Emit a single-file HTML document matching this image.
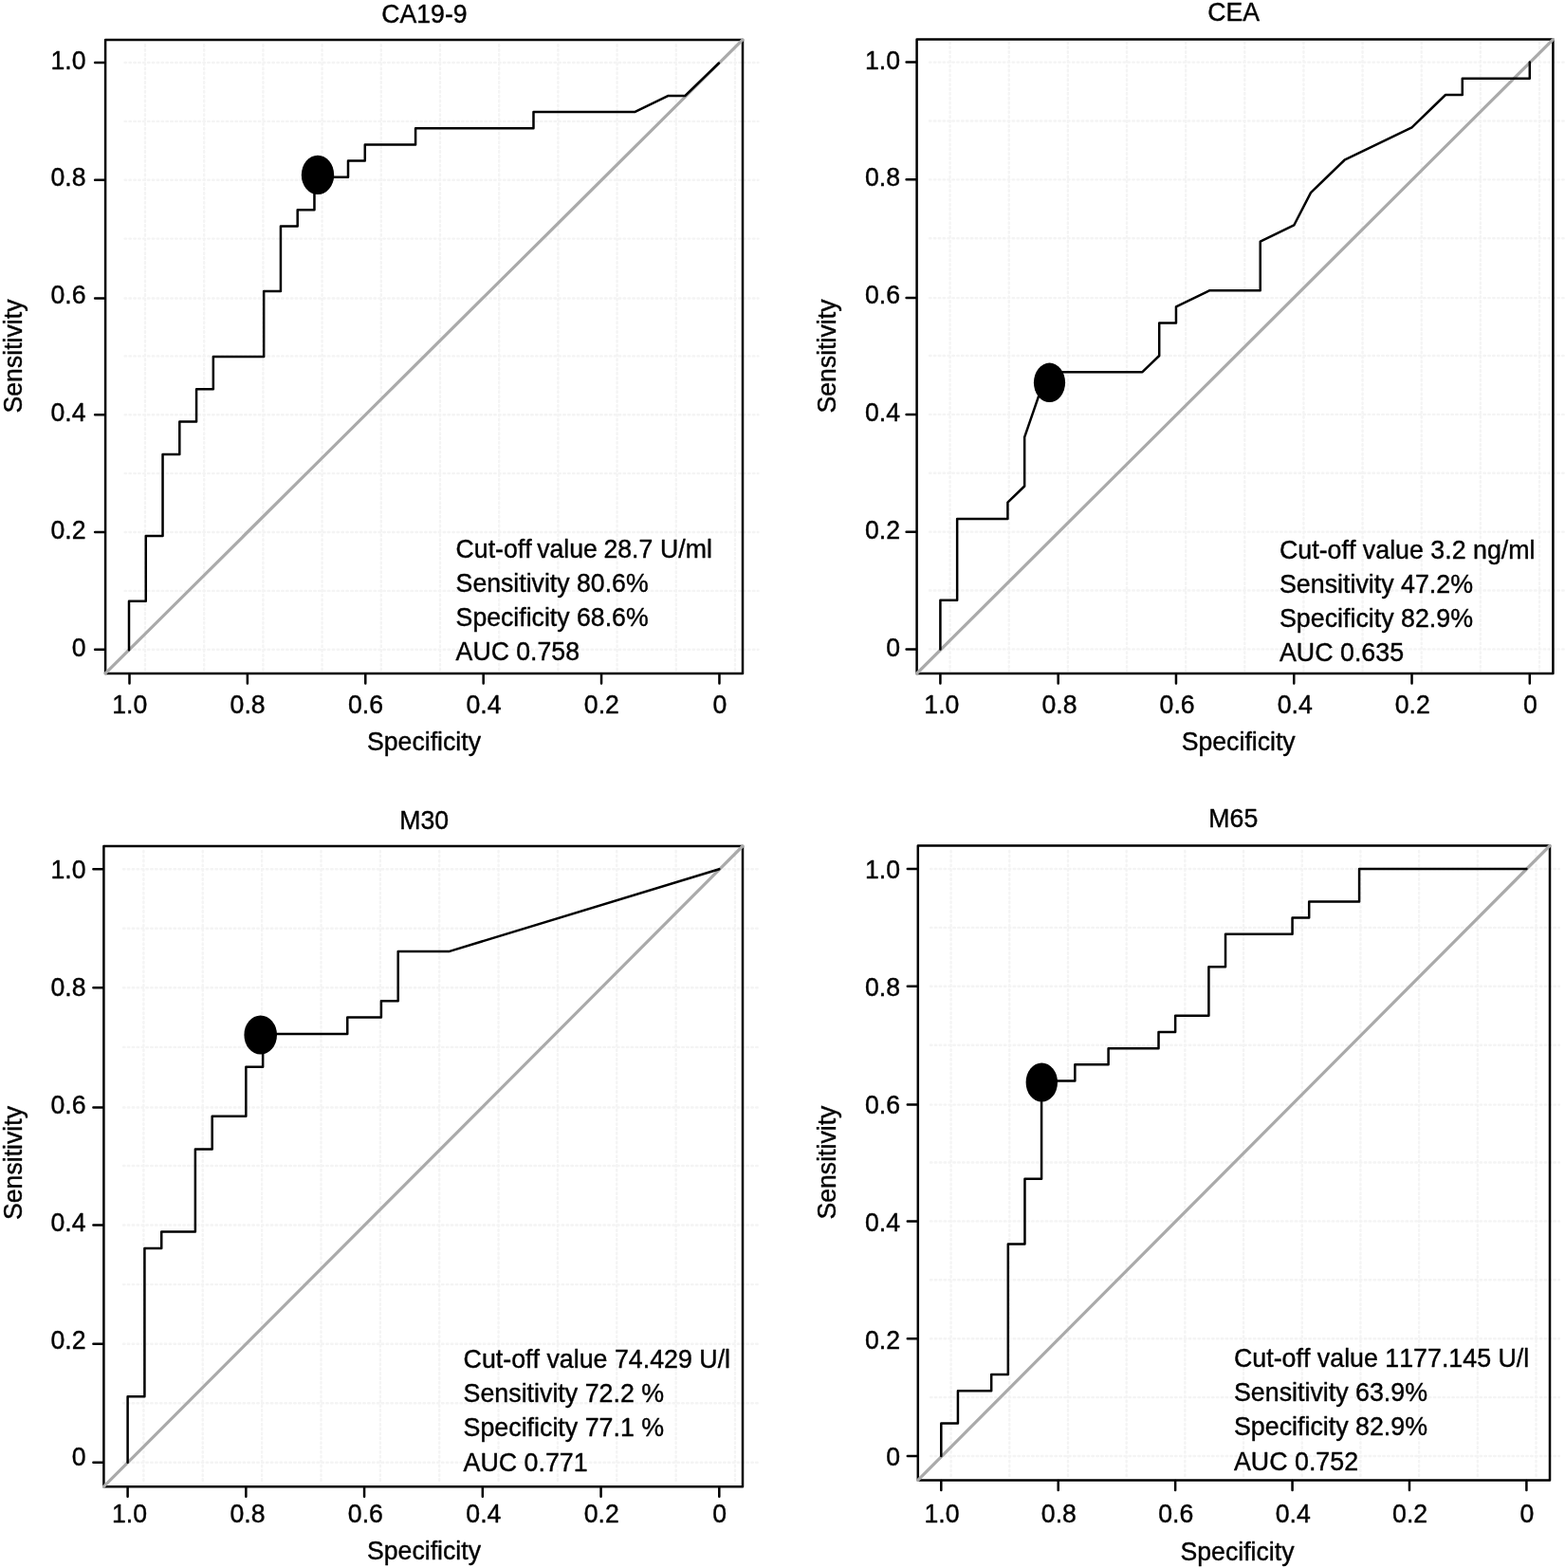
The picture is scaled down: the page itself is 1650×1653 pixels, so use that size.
<!DOCTYPE html>
<html lang="en">
<head>
<meta charset="utf-8">
<title>ROC curves: CA19-9, CEA, M30, M65</title>
<style>
html,body{margin:0;padding:0;background:#fff;}
body{width:1650px;height:1653px;overflow:hidden;}
svg{display:block;}
text{font-family:"Liberation Sans", sans-serif;font-size:26.67px;fill:#000;stroke:#000;stroke-width:0.4px;stroke-linejoin:round;font-kerning:none;font-variant-ligatures:none;}
.box{fill:none;stroke:#000;stroke-width:2.5;stroke-linejoin:round;}
.tick{stroke:#000;stroke-width:2.5;fill:none;stroke-linecap:round;}
.roc{fill:none;stroke:#000;stroke-width:2.5;stroke-linejoin:round;stroke-linecap:round;}
.diag{stroke:#aaaaaa;stroke-width:3.2;fill:none;stroke-linecap:round;}
.grid{stroke:#f4f4f4;stroke-width:2.4;stroke-dasharray:1.5 3.37;stroke-linecap:round;fill:none;}
</style>
</head>
<body>
<svg width="1650" height="1653" viewBox="0 0 1650 1653">
<rect x="0" y="0" width="1650" height="1653" fill="#ffffff"/>
<g>
<path class="grid" d="M153 47.3V707M215.2 47.3V707M277.4 47.3V707M339.6 47.3V707M401.8 47.3V707M464 47.3V707M526.2 47.3V707M588.4 47.3V707M650.6 47.3V707M712.8 47.3V707M775 47.3V707M131.6 66H799.5M131.6 127.88H799.5M131.6 189.75H799.5M131.6 251.62H799.5M131.6 314.5H799.5M131.6 375.38H799.5M131.6 437.25H799.5M131.6 499.12H799.5M131.6 561H799.5M131.6 622.88H799.5M131.6 684.75H799.5"/>
<rect class="box" x="111.1" y="41.95" width="671.9" height="668"/>
<line class="diag" x1="111.1" y1="709.95" x2="783" y2="41.95"/>
<path class="tick" d="M136.5 710.55v10M260.89 710.55v10M385.28 710.55v10M509.67 710.55v10M634.06 710.55v10M758.45 710.55v10M110.5 66h-10.4M110.5 189.75h-10.4M110.5 314.5h-10.4M110.5 437.25h-10.4M110.5 561h-10.4M110.5 684.75h-10.4"/>
<polyline class="roc" points="136,685.25 136,633.69 153.77,633.69 153.77,564.94 171.54,564.94 171.54,479 189.31,479 189.31,444.62 207.08,444.62 207.08,410.25 224.85,410.25 224.85,375.88 278.16,375.88 278.16,307.12 295.93,307.12 295.93,238.38 313.7,238.38 313.7,221.19 331.47,221.19 331.47,186.81 367.01,186.81 367.01,169.62 384.78,169.62 384.78,152.44 438.09,152.44 438.09,135.25 562.48,135.25 562.48,118.06 669.1,118.06 704.64,100.88 722.41,100.88 757.95,66.5"/>
<ellipse cx="335" cy="184.4" rx="17.2" ry="20.7" fill="#000"/>
<text transform="translate(136.7 752.4) scale(1 1.045)" text-anchor="middle">1.0</text>
<text transform="translate(261.12 752.4) scale(1 1.045)" text-anchor="middle">0.8</text>
<text transform="translate(385.54 752.4) scale(1 1.045)" text-anchor="middle">0.6</text>
<text transform="translate(509.96 752.4) scale(1 1.045)" text-anchor="middle">0.4</text>
<text transform="translate(634.38 752.4) scale(1 1.045)" text-anchor="middle">0.2</text>
<text transform="translate(758.8 752.4) scale(1 1.045)" text-anchor="middle">0</text>
<text transform="translate(90.6 72.5) scale(1 1.045)" text-anchor="end">1.0</text>
<text transform="translate(90.6 196.3) scale(1 1.045)" text-anchor="end">0.8</text>
<text transform="translate(90.6 320.1) scale(1 1.045)" text-anchor="end">0.6</text>
<text transform="translate(90.6 443.9) scale(1 1.045)" text-anchor="end">0.4</text>
<text transform="translate(90.6 567.7) scale(1 1.045)" text-anchor="end">0.2</text>
<text transform="translate(90.6 691.5) scale(1 1.045)" text-anchor="end">0</text>
<text transform="translate(447.4 24.2) scale(1 1.045)" text-anchor="middle">CA19-9</text>
<text transform="translate(447 791) scale(1 1.045)" text-anchor="middle">Specificity</text>
<text transform="translate(22.6 375.5) rotate(-90) scale(1 1.045)" text-anchor="middle">Sensitivity</text>
<text transform="translate(480.6 587.6) scale(1 1.045)">Cut-off<tspan dx="-1.8"> value</tspan><tspan dx="-0.9"> 28.7</tspan><tspan dx="0.3"> U/ml</tspan></text>
<text transform="translate(480.6 623.6) scale(1 1.045)">Sensitivity 80.6%</text>
<text transform="translate(480.6 660) scale(1 1.045)">Specificity 68.6%</text>
<text transform="translate(480.6 696.4) scale(1 1.045)">AUC 0.758</text>
</g>
<g>
<path class="grid" d="M1001.6 44.5V707M1063.74 44.5V707M1125.88 44.5V707M1188.02 44.5V707M1250.16 44.5V707M1312.3 44.5V707M1374.44 44.5V707M1436.58 44.5V707M1498.72 44.5V707M1560.86 44.5V707M1623 44.5V707M980 65.6H1650M980 127.48H1650M980 189.36H1650M980 251.24H1650M980 314.12H1650M980 375H1650M980 436.88H1650M980 498.76H1650M980 560.64H1650M980 622.52H1650M980 684.4H1650"/>
<rect class="box" x="966.6" y="41.6" width="670.8" height="668.4"/>
<line class="diag" x1="966.6" y1="710" x2="1637.4" y2="41.6"/>
<path class="tick" d="M991.4 710.6v10M1115.68 710.6v10M1239.96 710.6v10M1364.24 710.6v10M1488.52 710.6v10M1612.8 710.6v10M966 65.6h-10.4M966 189.36h-10.4M966 314.12h-10.4M966 436.88h-10.4M966 560.64h-10.4M966 684.4h-10.4"/>
<polyline class="roc" points="991.4,684.4 991.4,632.83 1009.15,632.83 1009.15,546.89 1062.42,546.89 1062.42,529.7 1080.17,512.51 1080.17,460.94 1097.93,409.38 1097.93,392.19 1204.45,392.19 1222.21,375 1222.21,340.62 1239.96,340.62 1239.96,323.43 1275.47,306.24 1328.73,306.24 1328.73,254.68 1364.24,237.49 1381.99,203.11 1417.5,168.73 1488.52,134.36 1524.03,99.98 1541.78,99.98 1541.78,82.79 1612.8,82.79 1612.8,65.6"/>
<ellipse cx="1106.5" cy="403.3" rx="16.6" ry="20.7" fill="#000"/>
<text transform="translate(992.9 752.4) scale(1 1.045)" text-anchor="middle">1.0</text>
<text transform="translate(1117 752.4) scale(1 1.045)" text-anchor="middle">0.8</text>
<text transform="translate(1241.1 752.4) scale(1 1.045)" text-anchor="middle">0.6</text>
<text transform="translate(1365.2 752.4) scale(1 1.045)" text-anchor="middle">0.4</text>
<text transform="translate(1489.3 752.4) scale(1 1.045)" text-anchor="middle">0.2</text>
<text transform="translate(1613.4 752.4) scale(1 1.045)" text-anchor="middle">0</text>
<text transform="translate(949 72.5) scale(1 1.045)" text-anchor="end">1.0</text>
<text transform="translate(949 196.3) scale(1 1.045)" text-anchor="end">0.8</text>
<text transform="translate(949 320.1) scale(1 1.045)" text-anchor="end">0.6</text>
<text transform="translate(949 443.9) scale(1 1.045)" text-anchor="end">0.4</text>
<text transform="translate(949 567.7) scale(1 1.045)" text-anchor="end">0.2</text>
<text transform="translate(949 691.5) scale(1 1.045)" text-anchor="end">0</text>
<text transform="translate(1300.6 22.3) scale(1 1.045)" text-anchor="middle">CEA</text>
<text transform="translate(1305.7 791) scale(1 1.045)" text-anchor="middle">Specificity</text>
<text transform="translate(881.3 375.5) rotate(-90) scale(1 1.045)" text-anchor="middle">Sensitivity</text>
<text transform="translate(1349 588.6) scale(1.005 1.045)">Cut-off value 3.2 ng/ml</text>
<text transform="translate(1349 625) scale(1.005 1.045)">Sensitivity 47.2%</text>
<text transform="translate(1349 661) scale(1.005 1.045)">Specificity 82.9%</text>
<text transform="translate(1349 697.4) scale(1.005 1.045)">AUC 0.635</text>
</g>
<g>
<path class="grid" d="M151.4 897V1564M213.76 897V1564M276.12 897V1564M338.48 897V1564M400.84 897V1564M463.2 897V1564M525.56 897V1564M587.92 897V1564M650.28 897V1564M712.64 897V1564M775 897V1564M130 916.2H799.5M130 978.76H799.5M130 1041.32H799.5M130 1103.88H799.5M130 1167.44H799.5M130 1229H799.5M130 1291.56H799.5M130 1354.12H799.5M130 1416.68H799.5M130 1479.24H799.5M130 1541.8H799.5"/>
<rect class="box" x="109.4" y="892" width="673.6" height="675.2"/>
<line class="diag" x1="109.4" y1="1567.2" x2="783" y2="892"/>
<path class="tick" d="M134.6 1567.8v10M259.34 1567.8v10M384.08 1567.8v10M508.82 1567.8v10M633.56 1567.8v10M758.3 1567.8v10M108.8 916.2h-10.4M108.8 1041.32h-10.4M108.8 1167.44h-10.4M108.8 1291.56h-10.4M108.8 1416.68h-10.4M108.8 1541.8h-10.4"/>
<polyline class="roc" points="134.6,1541.8 134.6,1472.29 152.42,1472.29 152.42,1315.89 170.24,1315.89 170.24,1298.51 205.88,1298.51 205.88,1211.62 223.7,1211.62 223.7,1176.87 259.34,1176.87 259.34,1124.73 277.16,1124.73 277.16,1089.98 366.26,1089.98 366.26,1072.6 401.9,1072.6 401.9,1055.22 419.72,1055.22 419.72,1003.09 473.18,1003.09 758.3,916.2"/>
<ellipse cx="274.7" cy="1091" rx="17.3" ry="20.6" fill="#000"/>
<text transform="translate(136.5 1605) scale(1 1.045)" text-anchor="middle">1.0</text>
<text transform="translate(260.95 1605) scale(1 1.045)" text-anchor="middle">0.8</text>
<text transform="translate(385.4 1605) scale(1 1.045)" text-anchor="middle">0.6</text>
<text transform="translate(509.85 1605) scale(1 1.045)" text-anchor="middle">0.4</text>
<text transform="translate(634.3 1605) scale(1 1.045)" text-anchor="middle">0.2</text>
<text transform="translate(758.75 1605) scale(1 1.045)" text-anchor="middle">0</text>
<text transform="translate(90.6 926.3) scale(1 1.045)" text-anchor="end">1.0</text>
<text transform="translate(90.6 1050.1) scale(1 1.045)" text-anchor="end">0.8</text>
<text transform="translate(90.6 1173.9) scale(1 1.045)" text-anchor="end">0.6</text>
<text transform="translate(90.6 1297.7) scale(1 1.045)" text-anchor="end">0.4</text>
<text transform="translate(90.6 1421.5) scale(1 1.045)" text-anchor="end">0.2</text>
<text transform="translate(90.6 1545.3) scale(1 1.045)" text-anchor="end">0</text>
<text transform="translate(447.2 874.4) scale(1 1.045)" text-anchor="middle">M30</text>
<text transform="translate(447 1644) scale(1 1.045)" text-anchor="middle">Specificity</text>
<text transform="translate(22.6 1226) rotate(-90) scale(1 1.045)" text-anchor="middle">Sensitivity</text>
<text transform="translate(488.6 1442.4) scale(1.005 1.045)">Cut-off value 74.429 U/l</text>
<text transform="translate(488.6 1478.4) scale(1.005 1.045)">Sensitivity 72.2 %</text>
<text transform="translate(488.6 1514.4) scale(1.005 1.045)">Specificity 77.1 %</text>
<text transform="translate(488.6 1551) scale(1.005 1.045)">AUC 0.771</text>
</g>
<g>
<path class="grid" d="M1002.6 897V1557M1064.29 897V1557M1125.98 897V1557M1187.67 897V1557M1249.36 897V1557M1311.05 897V1557M1372.74 897V1557M1434.43 897V1557M1496.12 897V1557M1557.81 897V1557M1619.5 897V1557M981 916H1644M981 977.9H1644M981 1039.8H1644M981 1101.7H1644M981 1164.6H1644M981 1225.5H1644M981 1287.4H1644M981 1349.3H1644M981 1411.2H1644M981 1473.1H1644M981 1535H1644"/>
<rect class="box" x="967.8" y="891.5" width="666.2" height="668.9"/>
<line class="diag" x1="967.8" y1="1560.4" x2="1634" y2="891.5"/>
<path class="tick" d="M992.3 1561v10M1115.72 1561v10M1239.14 1561v10M1362.56 1561v10M1485.98 1561v10M1609.4 1561v10M967.2 916h-10.4M967.2 1039.8h-10.4M967.2 1164.6h-10.4M967.2 1287.4h-10.4M967.2 1411.2h-10.4M967.2 1535h-10.4"/>
<polyline class="roc" points="992.3,1535 992.3,1500.61 1009.93,1500.61 1009.93,1466.22 1045.19,1466.22 1045.19,1449.03 1062.83,1449.03 1062.83,1311.47 1080.46,1311.47 1080.46,1242.69 1098.09,1242.69 1098.09,1139.53 1133.35,1139.53 1133.35,1122.33 1168.61,1122.33 1168.61,1105.14 1221.51,1105.14 1221.51,1087.94 1239.14,1087.94 1239.14,1070.75 1274.4,1070.75 1274.4,1019.17 1292.03,1019.17 1292.03,984.78 1362.56,984.78 1362.56,967.58 1380.19,967.58 1380.19,950.39 1433.09,950.39 1433.09,916 1609.4,916"/>
<ellipse cx="1098.3" cy="1141" rx="16.7" ry="20.6" fill="#000"/>
<text transform="translate(993 1605) scale(1 1.045)" text-anchor="middle">1.0</text>
<text transform="translate(1116.4 1605) scale(1 1.045)" text-anchor="middle">0.8</text>
<text transform="translate(1239.8 1605) scale(1 1.045)" text-anchor="middle">0.6</text>
<text transform="translate(1363.2 1605) scale(1 1.045)" text-anchor="middle">0.4</text>
<text transform="translate(1486.6 1605) scale(1 1.045)" text-anchor="middle">0.2</text>
<text transform="translate(1610 1605) scale(1 1.045)" text-anchor="middle">0</text>
<text transform="translate(949 926.3) scale(1 1.045)" text-anchor="end">1.0</text>
<text transform="translate(949 1050.1) scale(1 1.045)" text-anchor="end">0.8</text>
<text transform="translate(949 1173.9) scale(1 1.045)" text-anchor="end">0.6</text>
<text transform="translate(949 1297.7) scale(1 1.045)" text-anchor="end">0.4</text>
<text transform="translate(949 1421.5) scale(1 1.045)" text-anchor="end">0.2</text>
<text transform="translate(949 1545.3) scale(1 1.045)" text-anchor="end">0</text>
<text transform="translate(1300.3 872) scale(1 1.045)" text-anchor="middle">M65</text>
<text transform="translate(1304.5 1645) scale(1 1.045)" text-anchor="middle">Specificity</text>
<text transform="translate(881.3 1225.6) rotate(-90) scale(1 1.045)" text-anchor="middle">Sensitivity</text>
<text transform="translate(1301 1440.6) scale(1.005 1.045)">Cut-off value 1177.145 U/l</text>
<text transform="translate(1301 1477.4) scale(1.005 1.045)">Sensitivity 63.9%</text>
<text transform="translate(1301 1513.4) scale(1.005 1.045)">Specificity 82.9%</text>
<text transform="translate(1301 1550) scale(1.005 1.045)">AUC 0.752</text>
</g>
</svg>
</body>
</html>
